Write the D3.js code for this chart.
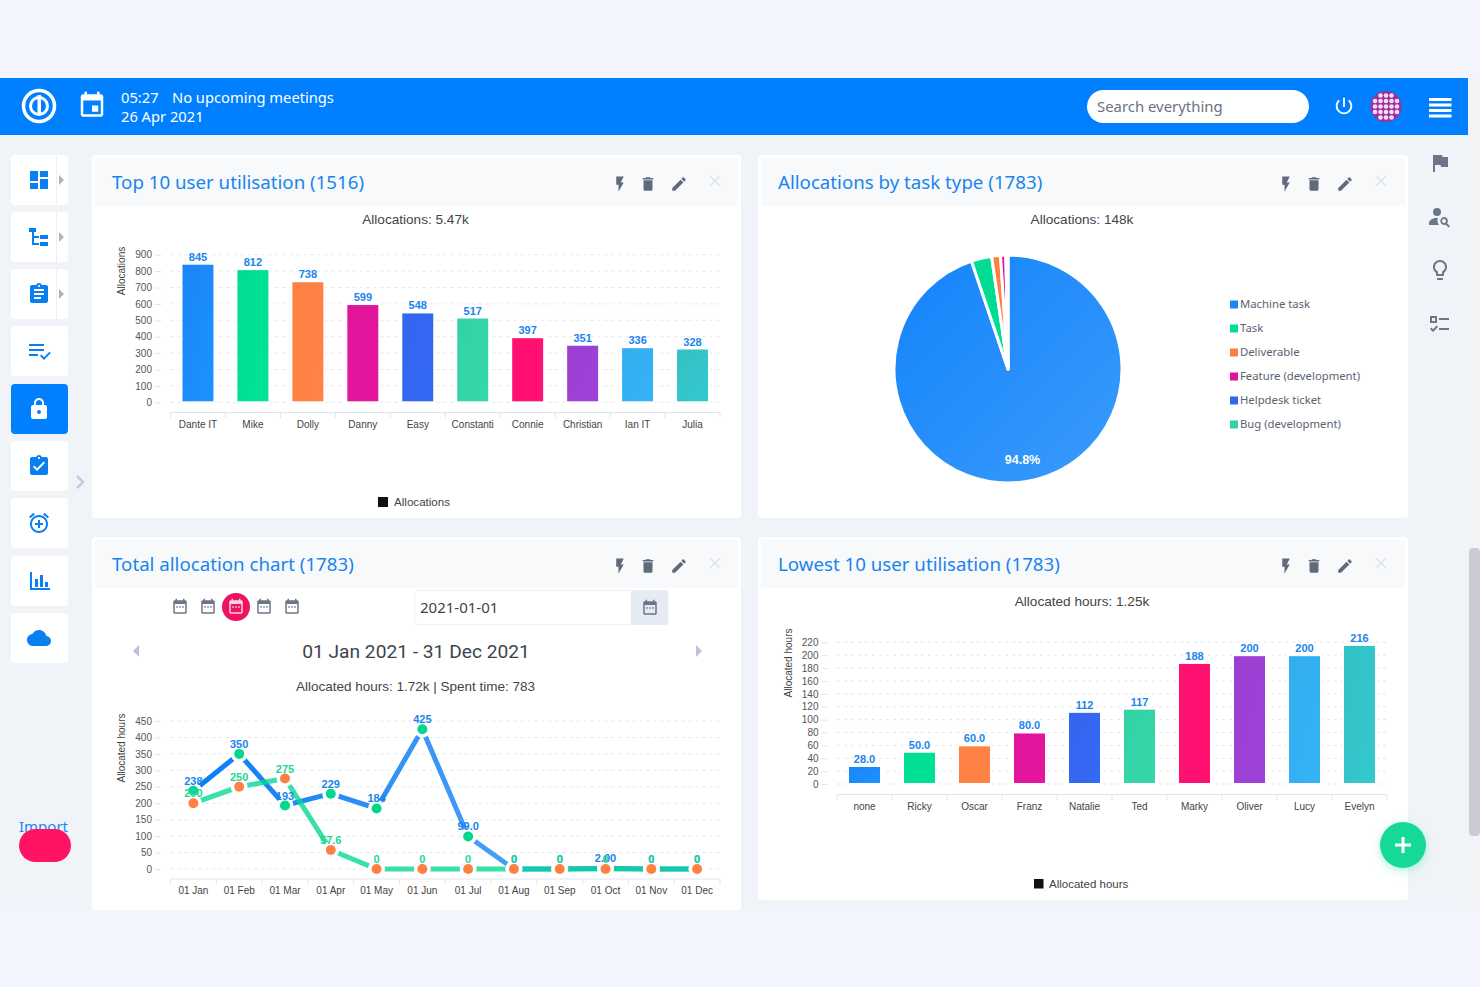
<!DOCTYPE html>
<html>
<head>
<meta charset="utf-8">
<script src="https://cdn.jsdelivr.net/npm/d3@7"></script>
<style>
  html, body { margin: 0; padding: 0; background: #f3f5fe; overflow: hidden; }
  svg { display: block; }
  text { font-family: "Liberation Sans", Arial, sans-serif; }
  .ui { font-family: "Noto Sans", sans-serif; }
</style>
</head>
<body>
<svg id="chart" width="1480" height="987"></svg>
<script>
// data
const topUsers = ["Dante IT", "Mike", "Dolly", "Danny", "Easy", "Constanti", "Connie", "Christian", "Ian IT", "Julia"];
const topValues = [845, 812, 738, 599, 548, 517, 397, 351, 336, 328];
const topTicks = [0, 100, 200, 300, 400, 500, 600, 700, 800, 900];

const lowUsers = ["none", "Ricky", "Oscar", "Franz", "Natalie", "Ted", "Marky", "Oliver", "Lucy", "Evelyn"];
const lowValues = [28, 50, 60, 80, 112, 117, 188, 200, 200, 216];
const lowTicks = [0, 20, 40, 60, 80, 100, 120, 140, 160, 180, 200, 220];

const months = ["01 Jan", "01 Feb", "01 Mar", "01 Apr", "01 May", "01 Jun", "01 Jul", "01 Aug", "01 Sep", "01 Oct", "01 Nov", "01 Dec"];
const allocatedHours = [238, 350, 193, 229, 184, 425, 99, 0, 0, 2, 0, 0];
const spentTime = [200, 250, 275, 57.6, 0, 0, 0, 0, 0, 0, 0, 0];
const lineTicks = [0, 50, 100, 150, 200, 250, 300, 350, 400, 450];

const taskTypes = ["Machine task", "Task", "Deliverable", "Feature (development)", "Helpdesk ticket", "Bug (development)"];
const taskShares = [94.8, 2.9, 1.25, 0.75, 0.2, 0.1];

const palette = ["#1a84f8", "#00dd93", "#ff8043", "#e0149a", "#3366ee", "#33d2a5", "#ff1170", "#9b3fd2", "#33aef0", "#33c2c6"];

const svg = d3.select("#chart");

// material icon paths
const icons = {
  dashboard: "M3 13h8V3H3v10zm0 8h8v-6H3v6zm10 0h8V11h-8v10zm0-18v6h8V3h-8z",
  flash: "M7 2v11h3v9l7-12h-4l4-8z",
  trash: "M6 19c0 1.1.9 2 2 2h8c1.1 0 2-.9 2-2V7H6v12zM19 4h-3.5l-1-1h-5l-1 1H5v2h14V4z",
  edit: "M3 17.25V21h3.75L17.81 9.94l-3.75-3.75L3 17.25zM20.71 7.04c.39-.39.39-1.02 0-1.41l-2.34-2.34c-.39-.39-1.02-.39-1.41 0l-1.83 1.83 3.75 3.75 1.83-1.83z",
  close: "M19 6.41L17.59 5 12 10.59 6.41 5 5 6.41 10.59 12 5 17.59 6.41 19 12 13.41 17.59 19 19 17.59 13.41 12z",
  event: "M17 12h-5v5h5v-5zM16 1v2H8V1H6v2H5c-1.11 0-1.99.9-1.99 2L3 19c0 1.1.89 2 2 2h14c1.1 0 2-.9 2-2V5c0-1.1-.9-2-2-2h-1V1h-2zm3 18H5V8h14v11z",
  calendar: "M7 11h2v2H7zm4 0h2v2h-2zm4 0h2v2h-2zM19 3h-1V1h-2v2H8V1H6v2H5c-1.1 0-2 .9-2 2v14c0 1.1.9 2 2 2h14c1.1 0 2-.9 2-2V5c0-1.1-.9-2-2-2zm0 16H5V8h14v11z",
  assignment: "M19 3h-4.18C14.4 1.84 13.3 1 12 1c-1.3 0-2.4.84-2.82 2H5c-1.1 0-2 .9-2 2v14c0 1.1.9 2 2 2h14c1.1 0 2-.9 2-2V5c0-1.1-.9-2-2-2zm-7 0c.55 0 1 .45 1 1s-.45 1-1 1-1-.45-1-1 .45-1 1-1zm2 14H7v-2h7v2zm3-4H7v-2h10v2zm0-4H7V7h10v2z",
  turnedIn: "M19 3h-4.18C14.4 1.84 13.3 1 12 1c-1.3 0-2.4.84-2.82 2H5c-1.1 0-2 .9-2 2v14c0 1.1.9 2 2 2h14c1.1 0 2-.9 2-2V5c0-1.1-.9-2-2-2zm-7 0c.55 0 1 .45 1 1s-.45 1-1 1-1-.45-1-1 .45-1 1-1zm-2 14l-4-4 1.41-1.41L10 14.17l6.59-6.59L18 9l-8 8z",
  lock: "M18 8h-1V6c0-2.76-2.24-5-5-5S7 3.24 7 6v2H6c-1.1 0-2 .9-2 2v10c0 1.1.9 2 2 2h12c1.1 0 2-.9 2-2V10c0-1.1-.9-2-2-2zm-6 9c-1.1 0-2-.9-2-2s.9-2 2-2 2 .9 2 2-.9 2-2 2zm3.1-9H8.9V6c0-1.71 1.39-3.1 3.1-3.1 1.71 0 3.1 1.39 3.1 3.1v2z",
  cloud: "M19.35 10.04C18.67 6.59 15.64 4 12 4 9.11 4 6.6 5.64 5.35 8.04 2.34 8.36 0 10.91 0 14c0 3.31 2.69 6 6 6h13c2.76 0 5-2.24 5-5 0-2.64-2.05-4.78-4.65-4.96z",
  flag: "M14.4 6L14 4H5v17h2v-7h5.6l.4 2h7V6z",
  bulb: "M9 21c0 .55.45 1 1 1h4c.55 0 1-.45 1-1v-1H9v1zm3-19C8.14 2 5 5.14 5 9c0 2.38 1.19 4.47 3 5.74V17c0 .55.45 1 1 1h6c.55 0 1-.45 1-1v-2.26c1.81-1.27 3-3.36 3-5.74 0-3.86-3.14-7-7-7zm2.85 11.1l-.85.6V16h-4v-2.3l-.85-.6C7.8 12.16 7 10.63 7 9c0-2.76 2.24-5 5-5s5 2.24 5 5c0 1.63-.8 3.16-2.15 4.1z",
  power: "M13 3h-2v10h2V3zm4.83 2.17l-1.42 1.42C17.99 7.86 19 9.81 19 12c0 3.87-3.13 7-7 7s-7-3.13-7-7c0-2.19 1.01-4.14 2.58-5.42L6.17 5.17C4.23 6.82 3 9.26 3 12c0 4.97 4.03 9 9 9s9-4.03 9-9c0-2.74-1.23-5.18-3.17-6.83z",
  alarm: "M7.88 3.39L6.6 1.86 2 5.71l1.29 1.53 4.59-3.85zM22 5.72l-4.6-3.86-1.29 1.53 4.6 3.86L22 5.72zM12 4c-4.97 0-9 4.03-9 9s4.02 9 9 9c4.97 0 9-4.03 9-9s-4.03-9-9-9zm0 16c-3.86 0-7-3.13-7-7s3.14-7 7-7 7 3.13 7 7-3.13 7-7 7zm1-11h-2v3H8v2h3v3h2v-3h3v-2h-3V9z",
  tree: "M2 3h7v4H2zM5 7h2v11h5v2H5zM7 11h5v2H7zM13 10h8v4h-8zM13 17h8v4h-8z",
  listCheck: "M2 5h15v2H2zM2 10h15v2H2zM2 15h9v2H2zM13 17l1.4-1.4 2.6 2.6 5.4-5.4L23.8 14 17 21z",
  bars: "M3 3h2v16h18v2H3zM8 10h3v8H8zM13 6h3v12h-3zM18 13h3v5h-3z",
  personSearch: "M10 3a4 4 0 1 1 0 8 4 4 0 0 1 0-8zM2 20v-2c0-3 4-5 8-5l1 .1c-1 2-.8 4.9 1 6.9zM17 12a4 4 0 0 1 3.2 6.4L23 21.2 21.6 22.6 18.800 19.700A4 4 0 1 1 17 12zm0 2a2 2 0 1 0 0 4 2 2 0 0 0 0-4z",
  checks: "M3 4h7v7H3zM5 6v3h3V6zM12 6h10v2H12zM12 16h10v2H12zM3 17l1.4-1.4 1.6 1.6 3.600-3.600L11 15l-5 5z"
};

function icon(name, cx, cy, size, color) {
  svg.append("path")
    .attr("d", icons[name])
    .attr("fill", color)
    .attr("transform", `translate(${cx - size / 2},${cy - size / 2}) scale(${size / 24})`);
}

function label(x, y, str, size, color, anchor, cls, weight) {
  return svg.append("text")
    .attr("class", cls || null)
    .attr("x", x)
    .attr("y", y)
    .attr("dy", "0.35em")
    .attr("text-anchor", anchor || "start")
    .attr("font-size", size)
    .attr("font-weight", weight || null)
    .attr("fill", color)
    .text(str);
}

// gradients + shadow
const defs = svg.append("defs");
palette.forEach((c, i) => {
  const g = defs.append("linearGradient").attr("id", "bar" + i)
    .attr("x1", 0).attr("y1", 0).attr("x2", 1).attr("y2", 1);
  g.append("stop").attr("offset", 0).attr("stop-color", c);
  g.append("stop").attr("offset", 1).attr("stop-color", d3.color(c).brighter(i === 0 ? 0.3 : 0.08).formatHex());
});
const pieGrad = defs.append("linearGradient").attr("id", "pieFill")
  .attr("x1", 0).attr("y1", 0).attr("x2", 1).attr("y2", 1);
pieGrad.append("stop").attr("offset", 0).attr("stop-color", "#1383fb");
pieGrad.append("stop").attr("offset", 1).attr("stop-color", "#3a9bfc");
const fabShadow = defs.append("filter").attr("id", "fabShadow")
  .attr("x", "-40%").attr("y", "-40%").attr("width", "180%").attr("height", "180%");
fabShadow.append("feDropShadow").attr("dx", 0).attr("dy", 3).attr("stdDeviation", 5)
  .attr("flood-color", "#16d998").attr("flood-opacity", 0.3);

// page shell
svg.append("rect").attr("width", 1480).attr("height", 987).attr("fill", "#f3f5fe");
svg.append("rect").attr("x", 0).attr("y", 135).attr("width", 1468).attr("height", 775).attr("fill", "#f0f4f8");
svg.append("rect").attr("x", 1468).attr("y", 78).attr("width", 12).attr("height", 832).attr("fill", "#f1f3f7");
svg.append("rect").attr("x", 1469).attr("y", 548).attr("width", 11).attr("height", 288).attr("rx", 4).attr("fill", "#c9ccd2");

// header
svg.append("rect").attr("x", 0).attr("y", 78).attr("width", 1468).attr("height", 57).attr("fill", "#0080ff");
svg.append("circle").attr("cx", 39).attr("cy", 106).attr("r", 15.5).attr("fill", "none").attr("stroke", "#fff").attr("stroke-width", 3.5);
svg.append("circle").attr("cx", 39).attr("cy", 106).attr("r", 8.5).attr("fill", "none").attr("stroke", "#fff").attr("stroke-width", 3);
svg.append("rect").attr("x", 37.5).attr("y", 95).attr("width", 3.5).attr("height", 20).attr("fill", "#fff");
icon("event", 92, 105.5, 30, "#fff");
label(121, 97.5, "05:27", 14.7, "#fff", "start", "ui");
label(172, 97.5, "No upcoming meetings", 14.7, "#fff", "start", "ui");
label(121, 116.5, "26 Apr 2021", 14.7, "#fff", "start", "ui");
svg.append("rect").attr("x", 1087).attr("y", 90).attr("width", 222).attr("height", 33).attr("rx", 16.5).attr("fill", "#fff");
label(1097, 106.5, "Search everything", 14.9, "#6b7280", "start", "ui");
icon("power", 1344, 106, 22, "#fff");
svg.append("circle").attr("cx", 1386).attr("cy", 106.5).attr("r", 15.5).attr("fill", "#a02c9e");
d3.range(-2, 3).forEach(a => d3.range(-2, 3).forEach(b => {
  if (a * a + b * b < 7) {
    svg.append("circle").attr("cx", 1386 + a * 5.5).attr("cy", 106.5 + b * 5.5).attr("r", 2.3).attr("fill", "#f3dff2");
  }
}));
[0, 1, 2, 3].forEach(i => {
  svg.append("rect").attr("x", 1429).attr("y", 98 + i * 5.5).attr("width", 22.5).attr("height", 3).attr("fill", "#fff");
});

// left sidebar
const sideItems = [
  { y: 155, name: "dashboard", arrow: true },
  { y: 212, name: "tree", arrow: true },
  { y: 269, name: "assignment", arrow: true },
  { y: 326, name: "listCheck" },
  { y: 384, name: "lock", active: true },
  { y: 441, name: "turnedIn" },
  { y: 498, name: "alarm" },
  { y: 556, name: "bars" },
  { y: 613, name: "cloud" }
];
sideItems.forEach(d => {
  svg.append("rect").attr("x", 11).attr("y", d.y).attr("width", 57).attr("height", 50).attr("rx", 4)
    .attr("fill", d.active ? "#0080ff" : "#fff");
  icon(d.name, 39, d.y + 25, 24, d.active ? "#fff" : "#0a7ff0");
  if (d.arrow) {
    svg.append("line").attr("x1", 56.5).attr("x2", 56.5).attr("y1", d.y).attr("y2", d.y + 50).attr("stroke", "#eceff3");
    svg.append("path").attr("d", `M59 ${d.y + 20}l5 5-5 5z`).attr("fill", "#aeb4c0");
  }
});
svg.append("path").attr("d", "M77 476l6 6-6 6").attr("fill", "none").attr("stroke", "#c5cbe0").attr("stroke-width", 2.5);
label(19, 827, "Import", 15, "#1a84f0", "start", "ui");
svg.append("rect").attr("x", 19).attr("y", 829).attr("width", 52).attr("height", 33).attr("rx", 16.5).attr("fill", "#ff1464");

// right rail
icon("flag", 1440, 163, 24, "#6b7688");
icon("personSearch", 1439, 217, 24, "#6b7688");
icon("bulb", 1440, 270, 24, "#6b7688");
icon("checks", 1439, 324, 24, "#6b7688");

// cards
function card(x, y, w, h, title) {
  svg.append("rect").attr("x", x).attr("y", y).attr("width", w).attr("height", h).attr("rx", 4).attr("fill", "#fff");
  svg.append("rect").attr("x", x + 3).attr("y", y + 3).attr("width", w - 6).attr("height", 48).attr("fill", "#f7f9fb");
  label(x + 20, y + 27, title, 18.7, "#1a84ee", "start", "ui");
  icon("flash", x + 528, y + 29, 18, "#5f6b7c");
  icon("trash", x + 556, y + 29, 18, "#5f6b7c");
  icon("edit", x + 587, y + 29, 18, "#5f6b7c");
  icon("close", x + 623, y + 26, 18, "#dfe3ea");
}
card(92, 155, 649, 363, "Top 10 user utilisation (1516)");
card(758, 155, 650, 363, "Allocations by task type (1783)");
card(92, 537, 649, 373, "Total allocation chart (1783)");
card(758, 537, 650, 363, "Lowest 10 user utilisation (1783)");

// shared axis pieces
function drawAxes(x, y, ticks, yTitle, axisY, titleY) {
  const [x0, x1] = x.range();
  const yAxis = svg.append("g")
    .attr("transform", `translate(${x0 - 9.5},0)`)
    .call(d3.axisLeft(y).tickValues(ticks).tickSize(6).tickPadding(3));
  yAxis.select(".domain").remove();
  yAxis.selectAll("line").attr("stroke", "#dfe5ee");
  yAxis.selectAll("text").attr("font-size", 10).attr("fill", "#555").attr("font-family", "Liberation Sans");

  svg.append("g").selectAll("line")
    .data(ticks)
    .join("line")
    .attr("x1", x0).attr("x2", x1)
    .attr("y1", d => y(d)).attr("y2", d => y(d))
    .attr("stroke", "#e3e6ec")
    .attr("stroke-dasharray", "3 4");

  const xAxis = svg.append("g")
    .attr("transform", `translate(0,${axisY})`)
    .call(d3.axisBottom(x).tickSize(0).tickPadding(8.5));
  xAxis.select(".domain").attr("stroke", "#dfe5ee").attr("d", `M${x0},0.5H${x1}`);
  xAxis.selectAll("text").attr("font-size", 10).attr("fill", "#444").attr("font-family", "Liberation Sans");

  svg.append("g").selectAll("line")
    .data(d3.range(x.domain().length + 1))
    .join("line")
    .attr("x1", i => x0 + i * x.step()).attr("x2", i => x0 + i * x.step())
    .attr("y1", axisY).attr("y2", axisY + 6)
    .attr("stroke", "#dfe5ee");

  svg.append("text")
    .attr("transform", `translate(${x0 - 45.5},${titleY}) rotate(-90)`)
    .attr("text-anchor", "middle")
    .attr("font-size", 10)
    .attr("fill", "#444")
    .text(yTitle);
}

function barChart(cats, vals, ticks, xRange, yRange, axisY, yTitle, titleY, fmt) {
  const x = d3.scaleBand().domain(cats).range(xRange).paddingInner(0.4).paddingOuter(0.2);
  const y = d3.scaleLinear().domain([0, d3.max(ticks)]).range(yRange);
  drawAxes(x, y, ticks, yTitle, axisY, titleY);
  svg.append("g").selectAll("rect")
    .data(vals)
    .join("rect")
    .attr("x", (d, i) => x(cats[i]))
    .attr("y", d => y(d))
    .attr("width", x.bandwidth())
    .attr("height", d => y(0) - y(d))
    .attr("fill", (d, i) => `url(#bar${i})`)
    .attr("stroke", "#fff")
    .attr("stroke-width", 2);
  svg.append("g").selectAll("text")
    .data(vals)
    .join("text")
    .attr("x", (d, i) => x(cats[i]) + x.bandwidth() / 2)
    .attr("y", d => y(d) - 3)
    .attr("text-anchor", "middle")
    .attr("font-size", 11)
    .attr("font-weight", "bold")
    .attr("fill", "#1a84ee")
    .text(fmt);
}

const valueLabel = d3.format(".3r");

// top 10
label(415.5, 219, "Allocations: 5.47k", 13.6, "#444", "middle");
barChart(topUsers, topValues, topTicks, [170.5, 720], [402.3, 254.7], 412, "Allocations", 271, d => d);
svg.append("rect").attr("x", 378).attr("y", 497).attr("width", 10).attr("height", 10).attr("fill", "#111");
label(394, 502, "Allocations", 11.6, "#444");

// lowest 10
label(1082, 601, "Allocated hours: 1.25k", 13.6, "#444", "middle");
barChart(lowUsers, lowValues, lowTicks, [837, 1387], [784, 642.3], 794, "Allocated hours", 663, valueLabel);
svg.append("rect").attr("x", 1034).attr("y", 879).attr("width", 9.5).attr("height", 9.5).attr("fill", "#111");
label(1049, 884, "Allocated hours", 11.5, "#444");

// pie
label(1082, 219, "Allocations: 148k", 13.6, "#444", "middle");
const pieData = d3.pie().sort(null).value(d => d)(taskShares);
const arc = d3.arc().innerRadius(0).outerRadius(114);
const pieG = svg.append("g").attr("transform", "translate(1008,369)");
pieG.selectAll("path")
  .data(pieData)
  .join("path")
  .attr("d", arc)
  .attr("fill", (d, i) => i === 0 ? "url(#pieFill)" : palette[i])
  .attr("stroke", "#fff")
  .attr("stroke-width", 3)
  .attr("stroke-linejoin", "round");
pieG.append("text")
  .attr("x", 14.5)
  .attr("y", 90.5)
  .attr("dy", "0.35em")
  .attr("text-anchor", "middle")
  .attr("font-size", 12.5)
  .attr("font-weight", "bold")
  .attr("fill", "#fff")
  .text(taskShares[0] + "%");
const legendG = svg.append("g").attr("transform", "translate(1230,304.5)");
legendG.selectAll("rect")
  .data(taskTypes)
  .join("rect")
  .attr("x", 0).attr("y", (d, i) => i * 24 - 4)
  .attr("width", 8).attr("height", 8)
  .attr("fill", (d, i) => palette[i]);
legendG.selectAll("text")
  .data(taskTypes)
  .join("text")
  .attr("class", "ui")
  .attr("x", 10).attr("y", (d, i) => i * 24)
  .attr("dy", "0.35em")
  .attr("font-size", 11.3)
  .attr("fill", "#5a6270")
  .text(d => d);

// calendar controls
[180, 208, 264, 292].forEach(cx => icon("calendar", cx, 607, 18, "#6c7688"));
svg.append("circle").attr("cx", 236).attr("cy", 607).attr("r", 14).attr("fill", "#ee1260");
icon("calendar", 236, 607, 18, "#fbd3e2");
svg.append("rect").attr("x", 415).attr("y", 590.5).attr("width", 253).attr("height", 34).attr("rx", 3).attr("fill", "#fff").attr("stroke", "#eef1f6");
svg.append("rect").attr("x", 631).attr("y", 590.5).attr("width", 37).attr("height", 34).attr("fill", "#e6eaf3");
label(420, 608, "2021-01-01", 15, "#444", "start", "ui");
icon("calendar", 650, 608, 18, "#6c7688");
svg.append("path").attr("d", "M139 645l-6 6 6 6z").attr("fill", "#b9c3dc");
svg.append("path").attr("d", "M696 645l6 6-6 6z").attr("fill", "#b9c3dc");
label(416, 651, "01 Jan 2021 - 31 Dec 2021", 19.2, "#3d4450", "middle").style("font-family", "Roboto");
label(415.5, 686, "Allocated hours: 1.72k | Spent time: 783", 13.5, "#444", "middle");

// line chart
const xLine = d3.scaleBand().domain(months).range([170.5, 720]);
const yLine = d3.scaleLinear().domain([0, 450]).range([869, 721]);
drawAxes(xLine, yLine, lineTicks, "Allocated hours", 878.5, 748);
const cx = i => xLine(months[i]) + xLine.bandwidth() / 2;

const lineGrad = defs.append("linearGradient").attr("id", "lineBlue")
  .attr("gradientUnits", "userSpaceOnUse")
  .attr("x1", cx(0)).attr("x2", cx(7)).attr("y1", 0).attr("y2", 0);
lineGrad.append("stop").attr("offset", 0).attr("stop-color", "#0a7df5");
lineGrad.append("stop").attr("offset", 1).attr("stop-color", "#4a9ff6");

const lineGen = d3.line().x((d, i) => cx(i)).y(d => yLine(d));

function series(vals, stroke, opacity) {
  svg.append("path")
    .datum(vals)
    .attr("d", lineGen)
    .attr("fill", "none")
    .attr("stroke", stroke)
    .attr("stroke-opacity", opacity)
    .attr("stroke-width", 5);
}
function markers(vals, color) {
  svg.append("g").selectAll("circle")
    .data(vals)
    .join("circle")
    .attr("cx", (d, i) => cx(i))
    .attr("cy", d => yLine(d))
    .attr("r", 5)
    .attr("fill", color)
    .attr("stroke", "#fff")
    .attr("stroke-width", 7)
    .attr("paint-order", "stroke");
}
function valueLabels(vals, color) {
  svg.append("g").selectAll("text")
    .data(vals)
    .join("text")
    .attr("x", (d, i) => cx(i))
    .attr("y", d => yLine(d) - 6)
    .attr("text-anchor", "middle")
    .attr("font-size", 11)
    .attr("font-weight", "bold")
    .attr("fill", color)
    .text(d => d === 0 ? "0" : valueLabel(d));
}

series(allocatedHours, "url(#lineBlue)", 1);
series(spentTime, "#00d890", 0.78);
markers(allocatedHours, "#00d890");
markers(spentTime, "#ff8043");
valueLabels(allocatedHours, "#1a84ee");
valueLabels(spentTime, "#1fd694");

// add button
svg.append("circle").attr("cx", 1403).attr("cy", 845).attr("r", 23).attr("fill", "#16d998").attr("filter", "url(#fabShadow)");
svg.append("path").attr("d", "M1403 837v16M1395 845h16").attr("stroke", "#fff").attr("stroke-width", 3);
</script>
</body>
</html>
